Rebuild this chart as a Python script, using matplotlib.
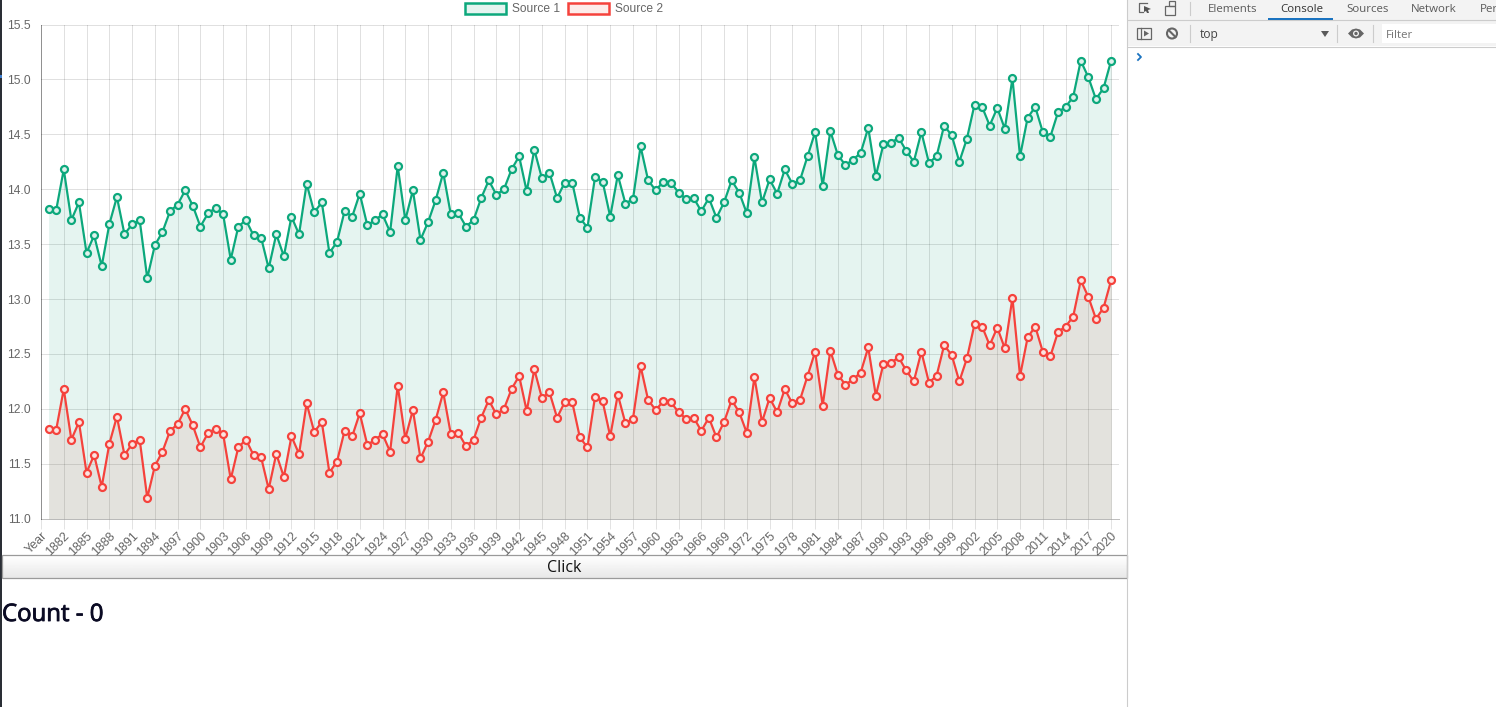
import numpy as np
import matplotlib
matplotlib.use("Agg")
import matplotlib.pyplot as plt
import matplotlib.patheffects as pe
from matplotlib.patches import Rectangle, Patch, Circle, Polygon
from matplotlib.transforms import ScaledTranslation

W, H = 1496, 707
DPI = 100
def px(p):
    return p * 72 / DPI

years = list(range(1880, 2021))
categories = ["Year"] + [str(y) for y in years] + [""]

source_1 = [
    13.82, 13.81, 14.18, 13.72, 13.88, 13.42, 13.58, 13.30, 13.68, 13.93,
    13.59, 13.68, 13.72, 13.19, 13.49, 13.61, 13.80, 13.86, 13.99, 13.85,
    13.66, 13.78, 13.83, 13.77, 13.36, 13.66, 13.72, 13.58, 13.56, 13.28,
    13.59, 13.39, 13.75, 13.59, 14.05, 13.79, 13.88, 13.42, 13.52, 13.80,
    13.75, 13.96, 13.67, 13.72, 13.77, 13.61, 14.21, 13.72, 13.99, 13.54,
    13.70, 13.90, 14.15, 13.77, 13.78, 13.66, 13.72, 13.92, 14.08, 13.95,
    14.00, 14.18, 14.30, 13.98, 14.36, 14.10, 14.15, 13.92, 14.06, 14.06,
    13.74, 13.65, 14.11, 14.07, 13.75, 14.13, 13.87, 13.91, 14.39, 14.08,
    13.99, 14.07, 14.06, 13.97, 13.91, 13.92, 13.80, 13.92, 13.74, 13.88,
    14.08, 13.97, 13.78, 14.29, 13.88, 14.09, 13.96, 14.18, 14.05, 14.08,
    14.30, 14.52, 14.03, 14.53, 14.31, 14.22, 14.27, 14.33, 14.56, 14.12,
    14.41, 14.42, 14.47, 14.35, 14.25, 14.52, 14.24, 14.30, 14.58, 14.49,
    14.25, 14.46, 14.77, 14.75, 14.58, 14.74, 14.55, 15.01, 14.30, 14.65,
    14.75, 14.52, 14.48, 14.70, 14.75, 14.84, 15.17, 15.02, 14.82, 14.92,
    15.17,
]
source_2 = [
    11.82, 11.81, 12.18, 11.72, 11.88, 11.42, 11.58, 11.29, 11.68, 11.93,
    11.58, 11.68, 11.72, 11.19, 11.48, 11.61, 11.80, 11.86, 12.00, 11.85,
    11.65, 11.78, 11.82, 11.77, 11.36, 11.65, 11.72, 11.58, 11.56, 11.27,
    11.59, 11.38, 11.75, 11.59, 12.05, 11.79, 11.88, 11.42, 11.52, 11.80,
    11.75, 11.96, 11.67, 11.72, 11.77, 11.61, 12.21, 11.73, 11.99, 11.55,
    11.70, 11.90, 12.15, 11.77, 11.78, 11.66, 11.72, 11.92, 12.08, 11.95,
    12.00, 12.18, 12.30, 11.98, 12.36, 12.10, 12.15, 11.92, 12.06, 12.06,
    11.74, 11.65, 12.11, 12.07, 11.75, 12.13, 11.87, 11.91, 12.39, 12.08,
    11.99, 12.07, 12.06, 11.97, 11.91, 11.92, 11.80, 11.92, 11.74, 11.88,
    12.08, 11.97, 11.78, 12.29, 11.88, 12.10, 11.97, 12.18, 12.05, 12.08,
    12.30, 12.52, 12.03, 12.53, 12.31, 12.22, 12.27, 12.33, 12.56, 12.12,
    12.41, 12.42, 12.47, 12.35, 12.25, 12.52, 12.24, 12.30, 12.58, 12.49,
    12.25, 12.46, 12.77, 12.75, 12.58, 12.74, 12.55, 13.01, 12.30, 12.65,
    12.75, 12.52, 12.48, 12.70, 12.75, 12.84, 13.17, 13.02, 12.82, 12.92,
    13.17,
]
y_ticks = [11.0, 11.5, 12.0, 12.5, 13.0, 13.5, 14.0, 14.5, 15.0, 15.5]

GREEN = "#0ca87c"
RED = "#f5423c"
GREEN_FILL = (0.0, 0.60, 0.44, 0.10)
RED_FILL = (0.957, 0.263, 0.212, 0.10)
TICK_TEXT = "#666666"
SANS = ["Liberation Sans", "DejaVu Sans"]
UI_FONT = ["Open Sans", "DejaVu Sans"]

fig = plt.figure(figsize=(W / DPI, H / DPI), dpi=DPI, facecolor="white")

# ---- page chrome in pixel coordinates ----
bg = fig.add_axes([0, 0, 1, 1], zorder=0)
bg.set_xlim(0, W)
bg.set_ylim(H, 0)
bg.axis("off")

bg.add_patch(Rectangle((0, 0), 2, H, fc="#2a2e35", ec="none"))
bg.add_patch(Rectangle((0, 75), 2, 3, fc="#3f7fd0", ec="none"))

# button
grad = np.linspace(1.0, 0.91, 32).reshape(-1, 1)
bg.imshow(grad, extent=(2.5, 1127, 578, 555), cmap="gray", vmin=0, vmax=1, aspect="auto", zorder=1)
bg.set_xlim(0, W)
bg.set_ylim(H, 0)
bg.add_patch(Rectangle((2.5, 555), 1124.5, 23, fc="none", ec="#9a9a9a", lw=0.9, zorder=2))
bg.text(564.5, 568, "Click", family=UI_FONT, fontsize=px(16), color="#111111", ha="center", va="center", zorder=3)
bg.text(2, 615, "Count - 0", family=UI_FONT, fontsize=px(24), weight="normal", color="#0a0a23",
        ha="left", va="center", zorder=3,
        path_effects=[pe.withStroke(linewidth=0.6, foreground="#0a0a23")])

# devtools panel
bg.add_patch(Rectangle((1128, 0), W - 1128, 46, fc="#f3f3f3", ec="none", zorder=1))
bg.plot([1127.5, 1127.5], [0, H], color="#cccccc", lw=0.8, zorder=2)
bg.plot([1128, W], [19.5, 19.5], color="#cccccc", lw=0.8, zorder=2)
bg.plot([1128, W], [46.5, 46.5], color="#cccccc", lw=0.8, zorder=2)
bg.add_patch(Rectangle((1268, 18), 65, 2, fc="#1a73c0", ec="none", zorder=3))
for label, x, col in [("Elements", 1208, "#5a5a5a"), ("Console", 1280, "#333333"),
                      ("Sources", 1346, "#5a5a5a"), ("Network", 1411, "#5a5a5a"), ("Per", 1480, "#5a5a5a")]:
    bg.text(x, 9, label, family=UI_FONT, fontsize=px(11.5), color=col, ha="left", va="center", zorder=3)
bg.plot([1190.5, 1190.5], [2, 15], color="#cccccc", lw=0.8, zorder=3)
bg.plot([1190.5, 1190.5], [25, 42], color="#cccccc", lw=0.8, zorder=3)
bg.plot([1337.5, 1337.5], [25, 42], color="#cccccc", lw=0.8, zorder=3)
bg.plot([1373.5, 1373.5], [25, 42], color="#cccccc", lw=0.8, zorder=3)
bg.add_patch(Rectangle((1382, 24), W - 1382, 19, fc="white", ec="none", zorder=2))
bg.text(1386, 35, "Filter", family=UI_FONT, fontsize=px(11.5), color="#757575", ha="left", va="center", zorder=3)
bg.text(1200, 34.5, "top", family=UI_FONT, fontsize=px(12), color="#444444", ha="left", va="center", zorder=3)
bg.add_patch(Polygon([[1321, 31], [1329, 31], [1325, 37]], fc="#5a5a5a", ec="none", zorder=3))
# inspect icon
bg.plot([1147, 1139, 1139, 1143], [3, 3, 12, 12], color="#666666", lw=0.9, zorder=3)
bg.add_patch(Polygon([[1144, 6], [1151, 9], [1148, 10], [1149, 13], [1147, 13], [1146, 11], [1144, 12]], fc="#555555", ec="none", zorder=3))
# device icon
bg.add_patch(Rectangle((1165, 6), 10, 9, fc="none", ec="#666666", lw=0.9, zorder=3))
bg.add_patch(Rectangle((1169, 1), 6, 5, fc="none", ec="#666666", lw=0.9, zorder=3))
# sidebar icon
bg.add_patch(Rectangle((1137, 28), 14, 11, fc="none", ec="#666666", lw=0.9, zorder=3))
bg.plot([1141.5, 1141.5], [28, 39], color="#666666", lw=0.9, zorder=3)
bg.add_patch(Polygon([[1144, 30.5], [1149, 33.5], [1144, 36.5]], fc="#666666", ec="none", zorder=3))
# block icon
bg.add_patch(Circle((1172, 33.5), 5, fc="none", ec="#666666", lw=1.5, zorder=3))
bg.plot([1168.5, 1175.5], [30, 37], color="#666666", lw=1.5, zorder=3)
# eye icon
bg.add_patch(Polygon([[1348, 33.5], [1352, 29.5], [1356, 28.5], [1360, 29.5], [1364, 33.5], [1360, 37.5], [1356, 38.5], [1352, 37.5]], fc="#666666", ec="none", zorder=3))
bg.add_patch(Circle((1356, 33.5), 3, fc="#f3f3f3", ec="none", zorder=4))
bg.add_patch(Circle((1356, 33.5), 1.7, fc="#666666", ec="none", zorder=5))
# console prompt
bg.plot([1138, 1141, 1138], [54, 57, 60], color="#1a73c0", lw=1.3, zorder=3)

# ---- chart ----
L, R, T, B = 41, 1118.7, 24.5, 518.7
ax = fig.add_axes([L / W, 1 - B / H, (R - L) / W, (B - T) / H], zorder=2)
ax.patch.set_alpha(0)

x_pos = np.arange(len(categories))
pts = x_pos[1:-1]
ax.set_xlim(0, len(categories) - 1)
ax.set_ylim(11.0, 15.5)

tick_idx = [i for i in x_pos[::3] if i < len(categories) - 1]
ax.set_xticks(tick_idx)
ax.set_xticklabels([categories[i] for i in tick_idx], rotation=45, ha="right",
                   rotation_mode="anchor", family=SANS, fontsize=px(12.5), color=TICK_TEXT)
shift = ScaledTranslation(-3 / DPI, 1.5 / DPI, fig.dpi_scale_trans)
for lab in ax.get_xticklabels():
    lab.set_transform(lab.get_transform() + shift)
ax.set_yticks(y_ticks)
ax.set_yticklabels([f"{v:.1f}" for v in y_ticks], family=SANS, fontsize=px(12), color=TICK_TEXT)
ax.tick_params(axis="x", length=px(10), width=px(1), color=(0, 0, 0, 0.11), pad=px(1))
ax.tick_params(axis="y", length=0, pad=px(10))
ax.grid(True, color="black", alpha=0.12, lw=px(1))
ax.set_axisbelow(True)
for s in ("top", "right"):
    ax.spines[s].set_visible(False)
ax.spines["left"].set_color((0, 0, 0, 0.35))
ax.spines["left"].set_linewidth(px(1))
ax.spines["bottom"].set_color((0, 0, 0, 0.25))
ax.spines["bottom"].set_linewidth(px(1))

ax.fill_between(pts, source_2, 11.0, color=RED_FILL, lw=0, zorder=2)
ax.fill_between(pts, source_1, 11.0, color=GREEN_FILL, lw=0, zorder=2.1)
ax.plot(pts, source_1, color=GREEN, lw=px(2.2), marker="o", ms=px(7), mew=px(2.2),
        mec=GREEN, mfc="#dff1ec", zorder=3, solid_joinstyle="round")
ax.plot(pts, source_2, color=RED, lw=px(2.2), marker="o", ms=px(7), mew=px(2.2),
        mec=RED, mfc="#fbe3e0", zorder=4, solid_joinstyle="round")

handles = [Patch(fc="#e5f4f0", ec=GREEN, lw=px(2.5), label="Source 1"),
           Patch(fc="#fdecea", ec=RED, lw=px(2.5), label="Source 2")]
leg = ax.legend(handles=handles, ncol=2, frameon=False, loc="lower center",
                bbox_to_anchor=((564 - L) / (R - L), 1.0 + 5 / (B - T)), borderaxespad=0, borderpad=0.35,
                prop={"family": SANS, "size": px(12)}, handlelength=41 / 12, handleheight=1.0,
                handletextpad=0.5, columnspacing=0.72, labelcolor=TICK_TEXT)

fig.savefig("out.png", dpi=DPI)
